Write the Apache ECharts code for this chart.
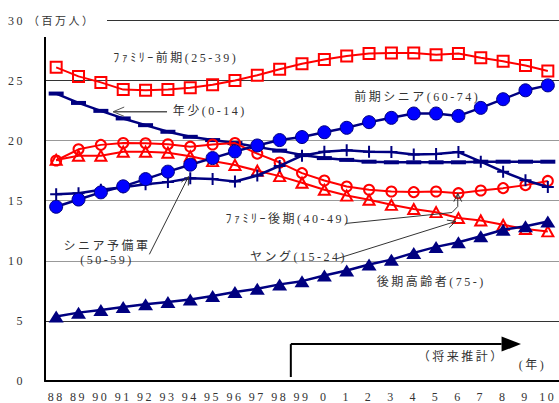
<!DOCTYPE html>
<html>
<head>
<meta charset="utf-8">
<script src="https://cdn.jsdelivr.net/npm/echarts@6/dist/echarts.min.js"></script>
<style>
  html, body { margin: 0; padding: 0; background: #fff; }
  #chart { width: 559px; height: 403px; }
  #chart svg text { letter-spacing: 2.5px; }
</style>
</head>
<body>
<div id="chart"></div>
<script>
// Years (19xx / 20xx), population by life stage in millions
const years = ['88','89','90','91','92','93','94','95','96','97','98','99','0','1','2','3','4','5','6','7','8','9','10'];
const yTicks = [0, 5, 10, 15, 20, 25, 30];

const familyEarly = [26.1, 25.35, 24.85, 24.25, 24.2, 24.25, 24.4, 24.65, 25.0, 25.45, 25.95, 26.4, 26.75, 27.05, 27.25, 27.3, 27.3, 27.15, 27.25, 26.9, 26.6, 26.25, 25.8];
const youth       = [23.92, 23.14, 22.48, 21.85, 21.29, 20.74, 20.32, 20.05, 19.8, 19.47, 19.17, 18.8, 18.55, 18.4, 18.25, 18.2, 18.2, 18.2, 18.2, 18.25, 18.25, 18.25, 18.25];
const familyLate  = [18.35, 19.28, 19.65, 19.8, 19.78, 19.7, 19.5, 19.68, 19.8, 18.92, 18.18, 17.3, 16.68, 16.18, 15.91, 15.77, 15.72, 15.77, 15.63, 15.85, 16.05, 16.3, 16.65];
const young       = [18.4, 18.75, 18.75, 19.08, 19.08, 19.0, 18.7, 18.3, 17.98, 17.5, 17.05, 16.5, 15.91, 15.43, 15.08, 14.66, 14.31, 14.05, 13.56, 13.36, 13.0, 12.65, 12.45];
const preSenior   = [15.55, 15.63, 15.91, 16.13, 16.38, 16.55, 16.88, 16.8, 16.6, 17.1, 17.9, 18.75, 19.08, 19.2, 19.08, 19.05, 18.85, 18.89, 19.05, 18.25, 17.42, 16.7, 16.15];
const earlySenior = [14.5, 15.1, 15.7, 16.2, 16.8, 17.42, 18.0, 18.55, 19.1, 19.6, 20.05, 20.3, 20.7, 21.07, 21.54, 21.9, 22.26, 22.26, 22.06, 22.73, 23.45, 24.19, 24.6];
const lateElderly = [5.36, 5.69, 5.91, 6.16, 6.38, 6.57, 6.79, 7.07, 7.4, 7.68, 8.04, 8.31, 8.78, 9.2, 9.69, 10.1, 10.66, 11.16, 11.54, 12.04, 12.59, 12.87, 13.28];

const FONT = "'Liberation Serif', 'Noto Sans CJK JP', serif";
const TXT = '#333';
const RED = '#ff0000';
const NAVY = '#000080';
const BLUE = '#0000ff';
const PLUS = 'path://M0,6H12M6,0V12';

const chart = echarts.init(document.getElementById('chart'), null, { renderer: 'svg' });

function lineSeries(name, data, lineColor, width, symbol, size, item, z) {
  return {
    name, type: 'line', data, z,
    symbol, symbolSize: size, showAllSymbol: true,
    lineStyle: { color: lineColor, width },
    itemStyle: item,
    emphasis: { disabled: true }
  };
}
const hollowRed = { color: 'rgba(255,255,255,0)', borderColor: RED, borderWidth: 2 };

chart.setOption({
  animation: false,
  grid: { left: 45, top: 20.5, width: 526.7, height: 361.5 },
  xAxis: {
    type: 'category', data: years, boundaryGap: true,
    axisLine: { lineStyle: { color: '#000', width: 2 } },
    axisTick: { inside: true, length: 4, interval: 0, lineStyle: { color: '#000', width: 1 } },
    axisLabel: { color: TXT, fontFamily: FONT, fontSize: 12, margin: 10, interval: 0 },
    splitLine: { show: false }
  },
  yAxis: {
    type: 'value', min: yTicks[0], max: yTicks[yTicks.length - 1], interval: 5,
    axisLine: { show: true, lineStyle: { color: '#000', width: 2 } },
    axisTick: { show: false },
    axisLabel: { color: TXT, fontFamily: FONT, fontSize: 12, margin: 20 },
    splitLine: { lineStyle: { color: ['#333', '#333', '#999', '#999', '#999', '#333', '#333'], width: 1 } }
  },
  series: [
    lineSeries('ファミリー前期', familyEarly, RED, 2, 'rect', 11, hollowRed, 2),
    lineSeries('年少', youth, NAVY, 2.5, 'rect', [15, 4], { color: NAVY }, 3),
    lineSeries('ファミリー後期', familyLate, RED, 2, 'circle', 10, hollowRed, 4),
    lineSeries('ヤング', young, RED, 2, 'triangle', [11, 10], hollowRed, 5),
    lineSeries('シニア予備軍', preSenior, NAVY, 2.5, PLUS, 12, { color: 'rgba(0,0,0,0)', borderColor: NAVY, borderWidth: 2 }, 6),
    lineSeries('前期シニア', earlySenior, NAVY, 2.5, 'circle', 13, { color: BLUE, borderColor: NAVY, borderWidth: 1 }, 7),
    lineSeries('後期高齢者', lateElderly, NAVY, 2.5, 'triangle', [15, 12], { color: NAVY }, 8)
  ]
});

// Place annotations in data space: x as (fractional) category index, y as value.
function P(i, v) {
  const a = chart.convertToPixel({ gridIndex: 0 }, [0, v]);
  const b = chart.convertToPixel({ gridIndex: 0 }, [1, v]);
  return [a[0] + (b[0] - a[0]) * i, a[1]];
}
function label(text, i, v, align, size) {
  const p = P(i, v);
  return { type: 'text', z: 100, x: p[0], y: p[1],
    style: { text, fill: TXT, fontFamily: FONT, fontSize: size || 12, align: align || 'left', verticalAlign: 'middle' } };
}
function seg(a, b, color, w) {
  return { type: 'line', z: 90, shape: { x1: a[0], y1: a[1], x2: b[0], y2: b[1] },
    style: { stroke: color || TXT, lineWidth: w || 1 } };
}
function head(tip, from, color, len, spread) {
  const dx = tip[0] - from[0], dy = tip[1] - from[1];
  const ang = Math.atan2(dy, dx);
  const L = len || 9, s = spread || 0.45;
  const p1 = [tip[0] - L * Math.cos(ang - s), tip[1] - L * Math.sin(ang - s)];
  const p2 = [tip[0] - L * Math.cos(ang + s), tip[1] - L * Math.sin(ang + s)];
  return { type: 'polyline', z: 90, shape: { points: [p1, tip, p2] },
    style: { stroke: color || TXT, lineWidth: 1, fill: null } };
}

const g = [];
// unit label beside the top tick
const axisTop = P(-0.5, 30);
g.push({ type: 'rect', z: 95, shape: { x: axisTop[0] - 18, y: axisTop[1] - 12, width: 80, height: 28.5 }, style: { fill: '#fff' } });
g.push({ type: 'text', z: 100, x: axisTop[0] - 17, y: axisTop[1], style: { text: '（百万人）', fill: TXT, fontFamily: FONT, fontSize: 11, align: 'left', verticalAlign: 'middle' } });

g.push(label('ﾌｧﾐﾘｰ前期(25-39)', 2.55, 26.89));
g.push(label('年少(0-14)', 5.22, 22.49));
{ const a = P(4.96, 22.41), b = P(2.55, 22.41); g.push(seg(a, b, '#555', 1.5)); g.push(head(b, a, '#555', 12, 0.4)); }
g.push(label('前期シニア(60-74)', 13.34, 23.65));
g.push(label('シニア予備軍', 2.27, 11.2, 'center'));
g.push(label('(50-59)', 2.27, 10.04, 'center'));
{ const a = P(4.17, 10.54), b = P(5.92, 17.01); g.push(seg(a, b)); g.push(head(b, a)); }
g.push(label('ﾌｧﾐﾘｰ後期(40-49)', 7.58, 13.44));
{ const pts = [P(12.95, 13.11), P(17.71, 14.02), P(17.97, 14.52), P(17.97, 15.6)];
  g.push({ type: 'polyline', z: 90, shape: { points: pts }, style: { stroke: TXT, lineWidth: 1, fill: null } });
  g.push(head(pts[3], pts[2])); }
g.push(label('ヤング(15-24)', 8.67, 10.29));
{ const a = P(12.6, 10.2), b = P(17.88, 13.28); g.push(seg(a, b)); g.push(head(b, a)); }
g.push(label('後期高齢者(75-)', 14.34, 8.22));
g.push(label('（将来推計）', 16.18, 1.99));
g.push(label('(年)', 20.7, 1.33));
// projection period marker
{ const a = P(10.5, 0.33), b = P(10.5, 3.07), c = P(19.93, 3.07), t = P(20.8, 3.07);
  g.push(seg(a, b, '#000', 2)); g.push(seg(b, c, '#000', 2));
  g.push({ type: 'polygon', z: 90, shape: { points: [[c[0], c[1] - 7.5], t, [c[0], c[1] + 7.5]] }, style: { fill: '#000' } }); }

chart.setOption({ graphic: g });
</script>
</body>
</html>
